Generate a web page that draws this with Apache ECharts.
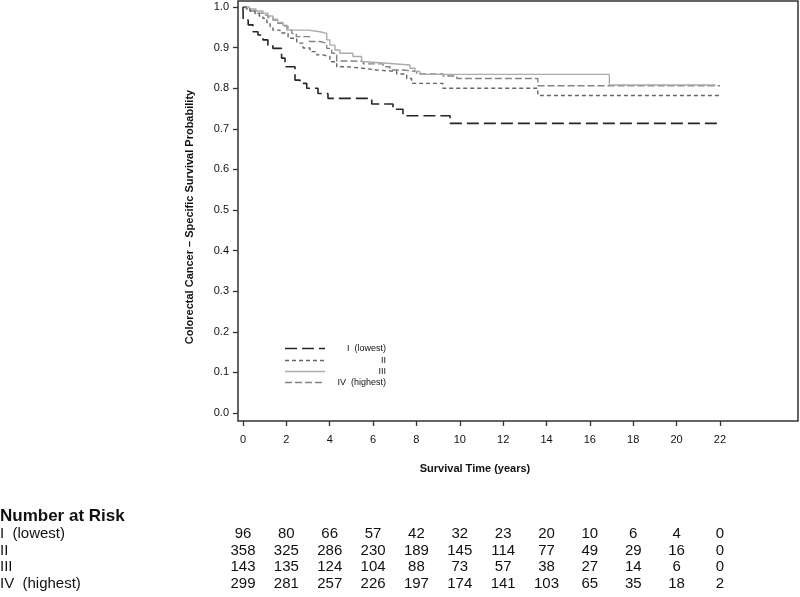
<!DOCTYPE html>
<html>
<head>
<meta charset="utf-8">
<script src="https://cdn.jsdelivr.net/npm/echarts@6/dist/echarts.min.js"></script>
<style>
html,body{margin:0;padding:0;background:#fff;}
#c{width:800px;height:597px;}
</style>
</head>
<body>
<div id="c"></div>
<script>
// ---- data ----
var groupNames = ['I  (lowest)', 'II', 'III', 'IV  (highest)'];
var xTicks = [0, 2, 4, 6, 8, 10, 12, 14, 16, 18, 20, 22];
var yTicks = [0, 0.1, 0.2, 0.3, 0.4, 0.5, 0.6, 0.7, 0.8, 0.9, 1.0];

var survI = [[0,1.0],[0.01,0.968],[0.24,0.956],[0.46,0.939],[0.69,0.931],[0.92,0.919],[1.15,0.906],[1.38,0.898],[1.78,0.874],[1.94,0.853],[2.40,0.820],[2.63,0.812],[2.94,0.800],[3.46,0.787],[3.92,0.775],[5.94,0.761],[6.92,0.748],[7.38,0.732],[9.55,0.7135],[22,0.7135]];
var survII = [[0,1.0],[0.1,0.996],[0.32,0.990],[0.55,0.984],[0.75,0.978],[0.92,0.972],[1.1,0.962],[1.25,0.952],[1.38,0.943],[1.71,0.936],[2.08,0.923],[2.48,0.911],[2.77,0.899],[3.09,0.890],[3.40,0.882],[3.69,0.878],[4.01,0.865],[4.32,0.853],[4.78,0.849],[5.54,0.845],[6.17,0.841],[7.09,0.835],[7.55,0.824],[7.78,0.812],[9.22,0.800],[13.6,0.782],[22,0.782]];
var survIII = [[0,1.0],[0.3,0.995],[0.6,0.990],[0.92,0.985],[1.15,0.978],[1.38,0.970],[1.6,0.962],[1.84,0.955],[2.02,0.943],[3.0,0.939],[3.55,0.935],[3.86,0.919],[4.01,0.906],[4.24,0.894],[4.47,0.886],[5.07,0.878],[5.47,0.865],[5.67,0.861],[6.78,0.857],[7.70,0.849],[7.93,0.841],[8.16,0.834],[16.9,0.808],[21.8,0.808]];
var survIV = [[0,1.0],[0.15,0.995],[0.32,0.990],[0.6,0.985],[0.92,0.980],[1.15,0.974],[1.38,0.968],[1.6,0.960],[1.84,0.953],[2.07,0.943],[2.25,0.935],[2.46,0.927],[3.07,0.915],[3.55,0.911],[3.86,0.898],[4.09,0.886],[4.32,0.867],[4.93,0.866],[5.55,0.860],[6.46,0.853],[6.78,0.845],[7.38,0.841],[8.01,0.835],[9.23,0.830],[9.86,0.824],[13.6,0.806],[22,0.806]];

var riskTimes = [0, 2, 4, 6, 8, 10, 12, 14, 16, 18, 20, 22];
var riskI   = [96, 80, 66, 57, 42, 32, 23, 20, 10, 6, 4, 0];
var riskII  = [358, 325, 286, 230, 189, 145, 114, 77, 49, 29, 16, 0];
var riskIII = [143, 135, 124, 104, 88, 73, 57, 38, 27, 14, 6, 0];
var riskIV  = [299, 281, 257, 226, 197, 174, 141, 103, 65, 35, 18, 2];

// ---- styles ----
var FONT = 'Liberation Sans, Arial, Helvetica, sans-serif';
var styles = [
  {color:'#262626', type:[12,5], width:1.6},
  {color:'#666666', type:[4,3], width:1.4},
  {color:'#ababab', type:'solid', width:1.4},
  {color:'#838383', type:[7,3], width:1.4}
];
var survData = [survI, survII, survIII, survIV];
var riskData = [riskI, riskII, riskIII, riskIV];

var chart = echarts.init(document.getElementById('c'), null, {renderer:'canvas'});

var series = survData.map(function(d, i){
  return {
    type:'line', step:'end', data:d, showSymbol:false, symbol:'none',
    lineStyle:{color:styles[i].color, type:styles[i].type, width:styles[i].width},
    silent:true, animation:false, z: 10 - i
  };
});

chart.setOption({
  animation:false,
  backgroundColor:'#fff',
  grid:{left:238, top:1, right:2, bottom:176, show:true, borderColor:'#333', borderWidth:1.5, containLabel:false},
  xAxis:{
    type:'value', min:-0.23, max:25.6,
    axisLine:{show:false, onZero:false},
    splitLine:{show:false},
    axisTick:{show:true, inside:false, length:5, customValues:xTicks, lineStyle:{color:'#333', width:1.3}},
    axisLabel:{show:true, customValues:xTicks, margin:13, fontSize:11, fontFamily:FONT, color:'#111'}
  },
  yAxis:{
    type:'value', min:-0.0197, max:1.0148,
    axisLine:{show:false, onZero:false},
    splitLine:{show:false},
    axisTick:{show:true, inside:false, length:5, customValues:yTicks, lineStyle:{color:'#333', width:1.3}},
    axisLabel:{show:true, customValues:yTicks, margin:9, fontSize:11, fontFamily:FONT, color:'#111',
      formatter:function(v){return v.toFixed(1);}}
  },
  series:series
});

// ---- graphic: axis titles, legend, risk table ----
var g = [];
g.push({type:'text', x:190, y:217, rotation:Math.PI/2, style:{text:'Colorectal Cancer \u2013 Specific Survival Probability', font:'bold 11px '+FONT, fill:'#111', align:'center', verticalAlign:'middle'}});
g.push({type:'text', x:475, y:469, style:{text:'Survival Time (years)', font:'bold 11px '+FONT, fill:'#111', align:'center', verticalAlign:'middle'}});

var legY = [348.5, 360.5, 371.5, 382.5];
for (var i=0;i<4;i++){
  var ld = styles[i].type === 'solid' ? null : styles[i].type;
  g.push({type:'line', shape:{x1:285, y1:legY[i], x2:325, y2:legY[i]},
    style:{stroke:styles[i].color, lineWidth:styles[i].width, lineDash:ld}});
  g.push({type:'text', x:386, y:legY[i], style:{text:groupNames[i], font:'9px '+FONT, fill:'#111', align:'right', verticalAlign:'middle'}});
}

g.push({type:'text', x:0, y:516, style:{text:'Number at Risk', font:'bold 17px '+FONT, fill:'#111', align:'left', verticalAlign:'middle'}});
var rowY = [534, 551, 567, 584];
for (var r=0;r<4;r++){
  g.push({type:'text', x:0, y:rowY[r], style:{text:groupNames[r], font:'15px '+FONT, fill:'#111', align:'left', verticalAlign:'middle'}});
  for (var k=0;k<riskTimes.length;k++){
    var px = chart.convertToPixel({xAxisIndex:0}, riskTimes[k]);
    g.push({type:'text', x:px, y:rowY[r], style:{text:String(riskData[r][k]), font:'15px '+FONT, fill:'#111', align:'center', verticalAlign:'middle'}});
  }
}
chart.setOption({graphic:g});
</script>
</body>
</html>
